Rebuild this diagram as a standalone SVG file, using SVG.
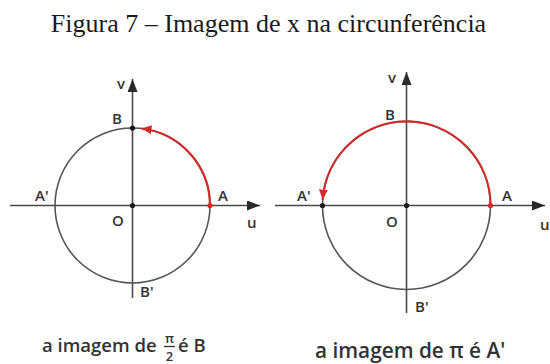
<svg xmlns="http://www.w3.org/2000/svg" width="550" height="364" viewBox="0 0 550 364">
<style>
.title{font-family:"Liberation Serif",serif;font-size:26px;fill:#1a1a1a}
.lbl{font-family:"Open Sans","Liberation Sans",sans-serif;font-size:15px;font-weight:600;fill:#333}
.cap{font-family:"Open Sans","Liberation Sans",sans-serif;fill:#333;font-weight:600}
.axis{stroke:#4a4a4a;stroke-width:1.6;fill:none}
.circ{stroke:#555;stroke-width:1.6;fill:none}
.red{stroke:#d42a2a;stroke-width:2.2;fill:none}
.dot{fill:#1a1a1a}
.rdot{fill:#d42a2a}
</style>
<defs>
<marker id="ax" markerUnits="userSpaceOnUse" markerWidth="14" markerHeight="10" refX="13" refY="5" orient="auto">
<path d="M0,0 L13,5 L0,10 z" fill="#2a2a2a"/>
</marker>
<marker id="ra" markerUnits="userSpaceOnUse" markerWidth="11" markerHeight="9" refX="10" refY="4.5" orient="auto">
<path d="M0,0 L10,4.5 L0,9 z" fill="#d42a2a"/>
</marker>
</defs>
<text class="title" x="268.5" y="32" text-anchor="middle">Figura 7 – Imagem de x na circunferência</text>

<g id="left-diagram">
<g id="left-circle"><circle class="circ" cx="132.5" cy="205.5" r="77.5"/></g>
<g id="left-axes">
<line class="axis" x1="10" y1="205.5" x2="260" y2="205.5" marker-end="url(#ax)"/>
<line class="axis" x1="132.5" y1="298" x2="132.5" y2="79" marker-end="url(#ax)"/>
</g>
<g id="left-arc"><path class="red" d="M210,205.5 A77.5,77.5 0 0 0 141.5,128.5" marker-end="url(#ra)"/></g>
<g id="left-points">
<circle class="dot" cx="132.5" cy="128" r="2.6"/>
<circle class="dot" cx="132.5" cy="205.5" r="2.6"/>
<circle class="rdot" cx="210" cy="205.5" r="2.6"/>
</g>
<g id="left-labels">
<text class="lbl" x="117" y="89">v</text>
<text class="lbl" x="112" y="124">B</text>
<text class="lbl" x="35" y="201">A'</text>
<text class="lbl" x="218" y="201">A</text>
<text class="lbl" x="112" y="226">O</text>
<text class="lbl" x="247" y="228">u</text>
<text class="lbl" x="140" y="297">B'</text>
</g>
<g id="left-caption">
<text class="cap" x="42" y="352" font-size="18.5">a imagem de</text>
<text class="cap" x="169.5" y="343" font-size="13" text-anchor="middle">π</text>
<line x1="164" y1="346.5" x2="175" y2="346.5" stroke="#333" stroke-width="1.3"/>
<text class="cap" x="169.5" y="361" font-size="13" text-anchor="middle">2</text>
<text class="cap" x="178" y="352" font-size="18.5">é B</text>
</g>
</g>

<g id="right-diagram">
<g id="right-circle"><circle class="circ" cx="406.5" cy="205.5" r="84"/></g>
<g id="right-axes">
<line class="axis" x1="275" y1="205.5" x2="545" y2="205.5" marker-end="url(#ax)"/>
<line class="axis" x1="406.5" y1="313" x2="406.5" y2="72" marker-end="url(#ax)"/>
</g>
<g id="right-arc"><path class="red" d="M490.5,205.5 A84,84 0 0 0 322.7,199.6" marker-end="url(#ra)"/></g>
<g id="right-points">
<circle class="dot" cx="322.5" cy="205.5" r="2.6"/>
<circle class="dot" cx="406.5" cy="205.5" r="2.6"/>
<circle class="rdot" cx="490.5" cy="205.5" r="2.6"/>
</g>
<g id="right-labels">
<text class="lbl" x="388" y="83">v</text>
<text class="lbl" x="385" y="120">B</text>
<text class="lbl" x="297" y="201">A'</text>
<text class="lbl" x="502" y="201">A</text>
<text class="lbl" x="386" y="227">O</text>
<text class="lbl" x="540" y="230">u</text>
<text class="lbl" x="415" y="312">B'</text>
</g>
<g id="right-caption">
<text class="cap" x="315" y="358" font-size="20.8">a imagem de π é A'</text>
</g>
</g>
</svg>
